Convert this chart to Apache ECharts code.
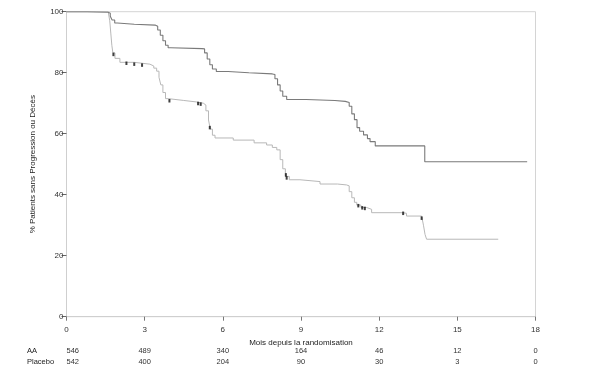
<!DOCTYPE html>
<html><head><meta charset="utf-8">
<script src="https://cdn.jsdelivr.net/npm/echarts@6/dist/echarts.min.js"></script>
<style>html,body{margin:0;padding:0;background:#fff}#c{width:591px;height:372px}</style>
</head><body><div id="c"></div>
<script>
// Kaplan-Meier curves (months, % free of progression or death)
var aaCurve = [[0,100],[0.8,99.8],[1.6,99.5],[1.68,98.5],[1.75,97.3],[1.85,96.3],[1.95,95.9],[2.6,95.6],[3.4,95.2],[3.5,94.0],[3.6,92.3],[3.7,90.5],[3.8,89.0],[3.9,88.2],[4.0,87.9],[5.2,87.8],[5.3,86.5],[5.4,84.5],[5.5,82.6],[5.6,81.2],[5.75,80.4],[6.2,80.0],[7.0,79.6],[7.9,79.4],[8.0,78.0],[8.1,76.0],[8.2,74.0],[8.3,72.3],[8.45,71.2],[9.2,70.9],[10.3,70.6],[10.7,70.2],[10.85,69.0],[10.95,66.5],[11.05,64.6],[11.15,62.0],[11.25,60.8],[11.4,59.6],[11.55,58.4],[11.65,57.4],[11.85,56.0],[13.67,56.0],[13.75,50.8],[17.68,50.8]];
var placeboCurve = [[0,100],[1.6,99.6],[1.66,97],[1.7,93],[1.74,89],[1.78,86.5],[1.86,84.7],[2.05,83.4],[2.6,82.8],[3.2,82.2],[3.35,81.5],[3.46,80.5],[3.55,78.5],[3.62,76],[3.7,73.5],[3.8,71.5],[3.9,70.9],[4.5,70.4],[5.0,70.0],[5.25,69.4],[5.35,67.5],[5.45,64.5],[5.52,61.5],[5.6,59.5],[5.7,58.6],[6.4,57.9],[7.2,57.0],[7.68,56.3],[7.9,55.5],[8.07,54.7],[8.2,51.5],[8.3,48.5],[8.4,46.0],[8.55,44.9],[8.96,44.3],[9.73,43.5],[10.4,43.2],[10.75,42.9],[10.85,41.0],[10.95,39.0],[11.05,37.5],[11.14,36.6],[11.3,35.8],[11.52,35.2],[11.71,34.1],[12.9,33.9],[13.05,33.0],[13.63,32.8],[13.7,30],[13.76,27],[13.82,25.4],[16.57,25.4]];
// censored observations (placebo), drawn as small black marks
var placeboCensored = [[1.8,86],[2.3,83.1],[2.6,82.8],[2.9,82.5],[3.95,70.8],[5.05,69.9],[5.15,69.7],[5.5,62],[8.42,46.5],[8.45,45.5],[11.2,36.4],[11.35,35.7],[11.45,35.5],[12.92,33.9],[13.63,32.3]];
var xTicks = [0,3,6,9,12,15,18];
var yTicks = [0,20,40,60,80,100];
var atRiskAA = [546,489,340,164,46,12,0];
var atRiskPlacebo = [542,400,204,90,30,3,0];
var rowNames = ['AA','Placebo'];
var xTitle = 'Mois depuis la randomisation';
var yTitle = '% Patients sans Progression ou Décès';

var FONT = 'Liberation Sans, Arial, sans-serif';
function riskFormatter(arr){ return function(v){ var i = xTicks.indexOf(v); return i>=0 ? String(arr[i]) : ''; }; }
var baseX = {type:'value', min:0, max:18, interval:3, gridIndex:0};

var chart = echarts.init(document.getElementById('c'), null, {renderer:'canvas'});
chart.setOption({
  animation:false,
  backgroundColor:'#fff',
  grid:{left:66.5, right:55.5, top:11.7, bottom:55.3, show:true, borderColor:'#d4d4d4', borderWidth:1, backgroundColor:'transparent'},
  xAxis:[
    Object.assign({}, baseX, {
      name:xTitle, nameLocation:'middle', nameGap:22,
      nameTextStyle:{fontFamily:FONT, fontSize:8, color:'#222'},
      axisLine:{show:true, lineStyle:{color:'#cfcfcf', width:1}},
      axisTick:{show:true, length:4, lineStyle:{color:'#777'}},
      axisLabel:{fontFamily:FONT, fontSize:8, color:'#333', margin:9},
      splitLine:{show:false}
    }),
    Object.assign({}, baseX, {
      position:'bottom', offset:21,
      axisLine:{show:false}, axisTick:{show:false}, splitLine:{show:false},
      axisLabel:{fontFamily:FONT, fontSize:7.5, color:'#333', margin:9, alignMinLabel:'left', formatter:riskFormatter(atRiskAA)}
    }),
    Object.assign({}, baseX, {
      position:'bottom', offset:32.5,
      axisLine:{show:false}, axisTick:{show:false}, splitLine:{show:false},
      axisLabel:{fontFamily:FONT, fontSize:7.5, color:'#333', margin:9, alignMinLabel:'left', formatter:riskFormatter(atRiskPlacebo)}
    })
  ],
  yAxis:{
    type:'value', min:0, max:100, interval:20,
    name:yTitle, nameLocation:'middle', nameGap:30,
    nameTextStyle:{fontFamily:FONT, fontSize:8, color:'#222'},
    axisLine:{show:true, lineStyle:{color:'#cfcfcf', width:1}},
    axisTick:{show:true, length:5, lineStyle:{color:'#666'}},
    axisLabel:{fontFamily:FONT, fontSize:8, color:'#333', margin:3},
    splitLine:{show:false}
  },
  graphic:[
    {type:'text', left:27, top:346.5, style:{text:rowNames[0], font:'7.5px '+FONT, fill:'#222'}},
    {type:'text', left:27, top:358, style:{text:rowNames[1], font:'7.5px '+FONT, fill:'#222'}}
  ],
  series:[
    {type:'line', name:'Placebo', data:placeboCurve, step:'end', showSymbol:false, symbol:'none',
     lineStyle:{color:'#b8b8b8', width:1}, xAxisIndex:0, z:2},
    {type:'line', name:'AA', data:aaCurve, step:'end', showSymbol:false, symbol:'none',
     lineStyle:{color:'#7a7a7a', width:1.1}, xAxisIndex:0, z:3},
    {type:'scatter', name:'Censures', data:placeboCensored, symbol:'rect', symbolSize:[2,3.5],
     itemStyle:{color:'#111'}, xAxisIndex:0, z:4}
  ]
});
</script></body></html>
